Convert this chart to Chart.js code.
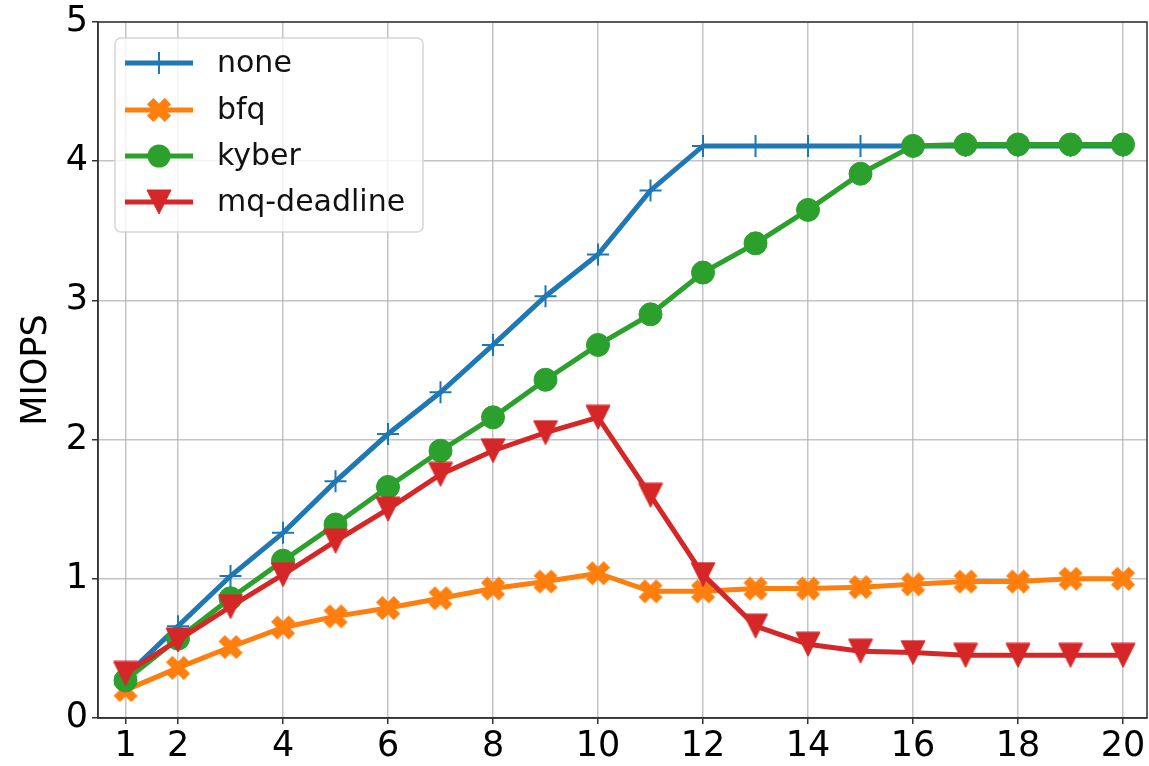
<!DOCTYPE html>
<html>
<head>
<meta charset="utf-8">
<script src="https://cdn.jsdelivr.net/npm/chart.js@4/dist/chart.umd.min.js"></script>
<style>
  body { margin: 0; background: #fff; }
  #wrap { width: 1149px; height: 766px; position: relative; }
</style>
</head>
<body>
<div id="wrap"><canvas id="chart"></canvas></div>
<script>
// data
const threads = [1, 2, 3, 4, 5, 6, 7, 8, 9, 10, 11, 12, 13, 14, 15, 16, 17, 18, 19, 20];
const xTicks = [1, 2, 4, 6, 8, 10, 12, 14, 16, 18, 20];
const yTicks = [0, 1, 2, 3, 4, 5];

const none = [0.30, 0.66, 1.02, 1.33, 1.70, 2.04, 2.34, 2.68, 3.03, 3.33, 3.79, 4.11, 4.11, 4.11, 4.11, 4.11, 4.11, 4.11, 4.11, 4.11];
const bfq = [0.20, 0.36, 0.51, 0.65, 0.73, 0.79, 0.86, 0.93, 0.98, 1.04, 0.91, 0.91, 0.93, 0.93, 0.94, 0.96, 0.98, 0.98, 1.00, 1.00];
const kyber = [0.27, 0.57, 0.86, 1.13, 1.39, 1.66, 1.92, 2.16, 2.43, 2.68, 2.90, 3.20, 3.41, 3.65, 3.91, 4.11, 4.12, 4.12, 4.12, 4.12];
const mqDeadline = [0.32, 0.56, 0.80, 1.03, 1.27, 1.50, 1.75, 1.92, 2.05, 2.16, 1.60, 1.03, 0.66, 0.53, 0.48, 0.47, 0.45, 0.45, 0.45, 0.45];

const BLUE = '#1f77b4', ORANGE = '#ff7f0e', GREEN = '#2ca02c', RED = '#d62728';
const FONT = "'DejaVu Sans', sans-serif";

function markerX(color) {
  const c = document.createElement('canvas');
  c.width = 30; c.height = 30;
  const ctx = c.getContext('2d');
  ctx.translate(15, 15);
  ctx.rotate(Math.PI / 4);
  const k = 24 / 6;
  const pts = [[-1,-3],[1,-3],[1,-1],[3,-1],[3,1],[1,1],[1,3],[-1,3],[-1,1],[-3,1],[-3,-1],[-1,-1]];
  ctx.beginPath();
  pts.forEach((p, i) => i ? ctx.lineTo(p[0]*k, p[1]*k) : ctx.moveTo(p[0]*k, p[1]*k));
  ctx.closePath();
  ctx.fillStyle = color; ctx.fill();
  ctx.strokeStyle = color; ctx.lineWidth = 1; ctx.stroke();
  return c;
}

function markerV(color) {
  const c = document.createElement('canvas');
  c.width = 26; c.height = 26;
  const ctx = c.getContext('2d');
  ctx.beginPath();
  ctx.moveTo(1, 1); ctx.lineTo(25, 1); ctx.lineTo(13, 25); ctx.closePath();
  ctx.fillStyle = color; ctx.fill();
  ctx.strokeStyle = color; ctx.lineWidth = 1; ctx.stroke();
  return c;
}

const xImg = markerX(ORANGE);
const vImg = markerV(RED);

function pts(vals) {
  return threads.map((t, i) => ({ x: t, y: vals[i] }));
}

// matplotlib style legend inside the axes
const legendBox = {
  id: 'legendBox',
  afterDatasetsDraw(chart) {
    const ctx = chart.ctx;
    ctx.save();
    ctx.beginPath();
    ctx.roundRect(115, 38, 308, 194, 6);
    ctx.fillStyle = 'rgba(255,255,255,0.8)';
    ctx.fill();
    ctx.strokeStyle = 'rgba(204,204,204,0.8)';
    ctx.lineWidth = 1.5;
    ctx.stroke();
    const rows = [63, 110, 156, 202];
    chart.data.datasets.forEach((ds, i) => {
      const y = rows[i];
      ctx.strokeStyle = ds.borderColor;
      ctx.lineWidth = 5;
      ctx.beginPath(); ctx.moveTo(125, y); ctx.lineTo(193, y); ctx.stroke();
      const mx = 159;
      if (ds.pointStyle === 'cross') {
        ctx.lineWidth = 2;
        ctx.beginPath();
        ctx.moveTo(mx - 11, y); ctx.lineTo(mx + 11, y);
        ctx.moveTo(mx, y - 11); ctx.lineTo(mx, y + 11);
        ctx.stroke();
      } else if (ds.pointStyle === 'circle') {
        ctx.beginPath(); ctx.arc(mx, y, 11.5, 0, Math.PI * 2);
        ctx.fillStyle = ds.pointBackgroundColor; ctx.fill();
      } else {
        const img = ds.pointStyle;
        ctx.drawImage(img, mx - img.width / 2, y - img.height / 2);
      }
      ctx.fillStyle = '#111';
      ctx.font = '30px ' + FONT;
      ctx.textBaseline = 'middle';
      ctx.fillText(ds.label, 217, y + 1);
    });
    ctx.restore();
  }
};

// top and right spines
const frame = {
  id: 'frame',
  afterDraw(chart) {
    const a = chart.chartArea, ctx = chart.ctx;
    ctx.save();
    ctx.strokeStyle = '#333';
    ctx.lineWidth = 1.5;
    ctx.strokeRect(a.left, a.top, a.right - a.left, a.bottom - a.top);
    ctx.restore();
  }
};

new Chart(document.getElementById('chart'), {
  type: 'line',
  data: {
    datasets: [
      { label: 'none', data: pts(none), borderColor: BLUE, backgroundColor: BLUE,
        borderWidth: 5, pointStyle: 'cross', pointRadius: 11, pointBorderWidth: 2,
        pointBorderColor: BLUE, order: 3 },
      { label: 'bfq', data: pts(bfq), borderColor: ORANGE, backgroundColor: ORANGE,
        borderWidth: 5, pointStyle: xImg, pointRadius: 12, order: 2 },
      { label: 'kyber', data: pts(kyber), borderColor: GREEN, backgroundColor: GREEN,
        borderWidth: 5, pointStyle: 'circle', pointRadius: 11.5, pointBorderWidth: 1,
        pointBackgroundColor: GREEN, pointBorderColor: GREEN, order: 1 },
      { label: 'mq-deadline', data: pts(mqDeadline), borderColor: RED, backgroundColor: RED,
        borderWidth: 5, pointStyle: vImg, pointRadius: 12, order: 0 }
    ]
  },
  options: {
    responsive: true,
    maintainAspectRatio: false,
    animation: false,
    layout: { autoPadding: false, padding: { top: 22, right: 2, left: 0, bottom: 0 } },
    plugins: { legend: { display: false }, tooltip: { enabled: false } },
    elements: { line: { tension: 0 } },
    scales: {
      x: {
        type: 'linear',
        min: 0.476,
        max: 20.457,
        afterBuildTicks: s => { s.ticks = xTicks.map(v => ({ value: v })); },
        afterFit: s => { s.height = 48; s.paddingLeft = 0; s.paddingRight = 0; },
        ticks: { color: '#000', font: { family: FONT, size: 35 }, padding: 2, maxRotation: 0 },
        grid: { color: 'rgba(176,176,176,0.75)', lineWidth: 1.5, tickColor: '#333', tickLength: 6 },
        border: { color: '#333', width: 1.5 }
      },
      y: {
        min: 0,
        max: 5,
        afterBuildTicks: s => { s.ticks = yTicks.map(v => ({ value: v })); },
        afterFit: s => { s.width = 98; s.paddingTop = 0; s.paddingBottom = 0; },
        ticks: { color: '#000', font: { family: FONT, size: 35 }, padding: 4 },
        grid: { color: 'rgba(176,176,176,0.75)', lineWidth: 1.5, tickColor: '#333', tickLength: 6 },
        border: { color: '#333', width: 1.5 },
        title: { display: true, text: 'MIOPS', color: '#000', font: { family: FONT, size: 35 }, padding: { top: 16, bottom: 0 } }
      }
    }
  },
  plugins: [legendBox, frame]
});
</script>
</body>
</html>
